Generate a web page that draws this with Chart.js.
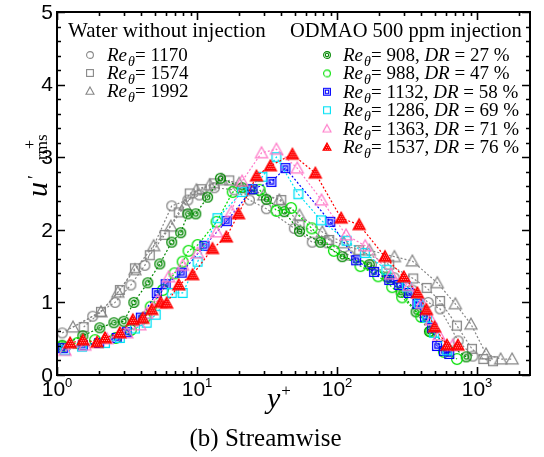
<!DOCTYPE html>
<html>
<head>
<meta charset="utf-8">
<script src="https://cdn.jsdelivr.net/npm/chart.js@4.4.0/dist/chart.umd.min.js"></script>
<style>
  html, body { margin: 0; padding: 0; background: #fff; }
</style>
</head>
<body>
<canvas id="urmsChart" width="544" height="457"></canvas>
<script>
// ---------- data (y+ , u'+rms)

// water without injection
var yp_1170 = [1.09, 1.8, 2.6, 3.37, 4.24, 6.6, 8.6, 10.4, 13.3, 18.5, 23.7, 31.3, 49.5, 66.5, 85, 122, 176, 256, 345, 448, 545, 733, 935];
var u_1170  = [0.58, 0.81, 1.0, 1.24, 1.51, 2.33, 2.41, 2.48, 2.58, 2.55, 2.41, 2.29, 2.02, 1.83, 1.82, 1.65, 1.52, 1.34, 1.17, 1.0, 0.91, 0.47, 0.26];

var yp_1574 = [1.55, 2.06, 2.81, 3.6, 4.6, 5.88, 7.4, 8.87, 10.8, 13.3, 17, 23.7, 40, 54, 88, 144, 236, 350, 437, 545, 718, 920, 1110, 1300];
var u_1574  = [0.66, 0.87, 1.17, 1.47, 1.65, 1.93, 2.24, 2.5, 2.56, 2.64, 2.68, 2.55, 2.41, 2.07, 1.86, 1.72, 1.52, 1.33, 1.2, 1.02, 0.68, 0.36, 0.22, 0.19];

var yp_1992 = [1.3, 2.06, 2.72, 3.6, 4.9, 6.5, 8.2, 9.9, 12.3, 15, 20, 30, 38.7, 54, 78.6, 112, 170, 257, 345, 520, 700, 905, 1160, 1475, 1780];
var u_1992  = [0.66, 0.87, 1.14, 1.45, 1.78, 2.05, 2.34, 2.55, 2.62, 2.69, 2.64, 2.48, 2.41, 2.2, 1.97, 1.82, 1.72, 1.63, 1.57, 1.27, 0.98, 0.70, 0.29, 0.22, 0.22];

// ODMAO 500 ppm injection
var yp_908 = [1.09, 1.53, 2.02, 2.55, 3.0, 3.54, 4.45, 5.42, 6.6, 7.65, 8.6, 9.8, 11.9, 14.7, 21, 31.3, 42, 54, 76, 109, 170, 228, 287, 367, 457, 837];
var u_908  = [0.41, 0.54, 0.65, 0.72, 0.74, 1.0, 1.27, 1.53, 1.83, 1.96, 2.22, 2.22, 2.45, 2.71, 2.58, 2.42, 2.25, 1.98, 1.83, 1.63, 1.52, 1.35, 1.14, 0.87, 0.6, 0.25];

var yp_988 = [1.085, 1.4, 1.87, 2.63, 3.37, 4.24, 4.67, 5.7, 6.9, 7.9, 8.7, 10.1, 13.8, 18, 28, 37, 47, 66, 95, 147, 197, 248, 292, 400, 470, 580, 720];
var u_988  = [0.39, 0.44, 0.48, 0.51, 0.62, 0.79, 0.94, 1.17, 1.4, 1.56, 1.71, 1.79, 2.11, 2.52, 2.55, 2.26, 2.3, 2.02, 1.71, 1.5, 1.36, 1.21, 1.07, 0.80, 0.6, 0.32, 0.22];

var yp_1132 = [1.1, 1.53, 2.0, 2.67, 3.15, 3.97, 5.16, 5.97, 7.78, 11.3, 16.3, 24.9, 34, 42.8, 89.5, 137, 184, 236, 278, 326, 375, 425, 478, 518, 580, 633];
var u_1132  = [0.37, 0.41, 0.44, 0.51, 0.59, 0.79, 1.13, 1.25, 1.41, 1.78, 2.12, 2.56, 2.66, 2.85, 2.11, 1.58, 1.42, 1.31, 1.24, 1.13, 0.98, 0.80, 0.65, 0.40, 0.33, 0.29];

var yp_1286 = [1.14, 1.51, 2.2, 2.81, 3.6, 4.37, 5.07, 6.6, 7.9, 10.1, 14, 21, 29.3, 36.9, 53, 77, 117, 158, 225, 316, 385, 440, 495, 612];
var u_1286  = [0.34, 0.39, 0.44, 0.51, 0.64, 0.72, 0.83, 1.13, 1.13, 1.56, 2.16, 2.52, 2.73, 3.0, 2.49, 2.13, 1.85, 1.68, 1.45, 1.21, 0.99, 0.79, 0.58, 0.34];

var yp_1363 = [1.14, 1.58, 2.27, 3.15, 3.9, 4.37, 5.25, 6.27, 7.9, 10.1, 13.8, 17.6, 21, 28.9, 36.9, 52, 77.5, 116, 159, 243, 327, 405, 470, 535, 670];
var u_1363  = [0.34, 0.41, 0.5, 0.58, 0.69, 0.85, 1.03, 1.35, 1.51, 1.68, 1.97, 2.25, 2.67, 3.06, 3.11, 2.85, 2.41, 1.93, 1.78, 1.39, 1.23, 0.99, 0.76, 0.55, 0.41];

var yp_1537 = [1.24, 1.53, 1.93, 2.2, 2.81, 3.48, 4.1, 4.75, 5.5, 6.07, 7.4, 9.3, 12.9, 16.2, 19.8, 26.6, 33.4, 48, 70, 107, 144, 220, 300, 375, 435, 497, 610, 730];
var u_1537  = [0.44, 0.48, 0.45, 0.51, 0.58, 0.76, 0.78, 0.9, 1.0, 0.99, 1.24, 1.38, 1.74, 1.9, 2.22, 2.74, 2.88, 3.04, 2.78, 2.16, 2.07, 1.63, 1.35, 1.13, 0.9, 0.66, 0.41, 0.41];

// legend text
var waterTitle = 'Water without injection';
var waterRe = ['1170', '1574', '1992'];
var odmaoTitle = 'ODMAO 500 ppm injection';
var odmaoRe = ['908', '988', '1132', '1286', '1363', '1537'];
var odmaoDR = ['27', '47', '58', '69', '71', '76'];

var yTicks = [0, 1, 2, 3, 4, 5];
var xDecades = [0, 1, 2, 3];
var xMin = 1, xMax = 2390;

// ---------- markers

var SERIF = '"Liberation Serif", "Times New Roman", serif';
var SANS = '"Liberation Sans", Arial, sans-serif';

var GRAY = 'rgb(135,135,135)', DKGREEN = 'rgb(0,135,0)', LIME = 'rgb(0,225,0)',
    BLUE = 'rgb(0,0,255)', CYAN = 'rgb(0,225,245)', PINK = 'rgb(255,120,200)', RED = 'rgb(255,0,0)';

function makeMarker(shape, color, size, lw) {
  var s = Math.ceil(size) + 4;
  var c = document.createElement('canvas');
  c.width = s; c.height = s;
  var g = c.getContext('2d');
  var m = s / 2, r = size / 2;
  g.strokeStyle = color; g.fillStyle = color; g.lineWidth = lw || 1.2;
  if (shape == 'circle' || shape == 'dcircle') {
    g.beginPath(); g.arc(m, m, r - 0.6, 0, Math.PI * 2); g.stroke();
    if (shape == 'dcircle') { g.beginPath(); g.arc(m, m, r * 0.42, 0, Math.PI * 2); g.stroke(); }
  } else if (shape == 'square' || shape == 'dsquare') {
    g.strokeRect(m - r + 0.6, m - r + 0.6, 2 * r - 1.2, 2 * r - 1.2);
    if (shape == 'dsquare') { var q = r * 0.42; g.strokeRect(m - q, m - q, 2 * q, 2 * q); }
  } else {
    g.beginPath();
    g.moveTo(m, m - r);
    g.lineTo(m + r, m + r * 0.8);
    g.lineTo(m - r, m + r * 0.8);
    g.closePath();
    if (shape == 'ftriangle') {
      g.fill();
      // speckled fill like the printed symbol
      g.save(); g.clip();
      g.fillStyle = 'rgba(255,255,255,0.55)';
      for (var i = 0; i < s; i += 2) {
        for (var j = (i / 2) % 2; j < s; j += 2) { g.fillRect(j, i, 1, 1); }
      }
      g.restore();
    }
    g.stroke();
  }
  return c;
}

var series = [
  { label: 'Re = 1170', x: yp_1170, y: u_1170, color: GRAY, shape: 'circle', size: 11 },
  { label: 'Re = 1574', x: yp_1574, y: u_1574, color: GRAY, shape: 'square', size: 10 },
  { label: 'Re = 1992', x: yp_1992, y: u_1992, color: GRAY, shape: 'triangle', size: 12 },
  { label: 'Re = 908, DR = 27 %', x: yp_908, y: u_908, color: DKGREEN, shape: 'dcircle', size: 11 },
  { label: 'Re = 988, DR = 47 %', x: yp_988, y: u_988, color: LIME, shape: 'circle', size: 12 },
  { label: 'Re = 1132, DR = 58 %', x: yp_1132, y: u_1132, color: BLUE, shape: 'dsquare', size: 10 },
  { label: 'Re = 1286, DR = 69 %', x: yp_1286, y: u_1286, color: CYAN, shape: 'square', size: 10 },
  { label: 'Re = 1363, DR = 71 %', x: yp_1363, y: u_1363, color: PINK, shape: 'triangle', size: 12 },
  { label: 'Re = 1537, DR = 76 %', x: yp_1537, y: u_1537, color: RED, shape: 'ftriangle', size: 12 }
];

var datasets = series.map(function (s, i) {
  s.marker = makeMarker(s.shape, s.color, s.size, 1.3);
  s.legendMarker = makeMarker(s.shape, s.color, 8, 1.1);
  return {
    label: s.label,
    data: s.x.map(function (v, k) { return { x: v, y: s.y[k] }; }),
    borderColor: s.color,
    backgroundColor: s.color,
    borderWidth: 1.2,
    borderDash: [2, 2],
    pointStyle: s.marker,
    pointRadius: 5,
    showLine: true,
    fill: false,
    tension: 0,
    clip: false,
    order: series.length - i
  };
});

// ---------- drawing helpers

function drawRich(ctx, x, y, parts) {
  parts.forEach(function (p) {
    ctx.font = p.f;
    ctx.fillText(p.t, x, y + (p.dy || 0));
    x += ctx.measureText(p.t).width + (p.gap || 0);
  });
  return x;
}

function reParts(re, dr) {
  var it = 'italic 19px ' + SERIF, rm = '19px ' + SERIF, sub = 'italic 14px ' + SERIF;
  var p = [{ t: 'Re', f: it, gap: 1 }, { t: 'θ', f: sub, dy: 5 }, { t: '= ' + re, f: rm }];
  if (dr) {
    p.push({ t: ', ', f: rm }, { t: 'DR', f: it }, { t: ' = ' + dr + ' %', f: rm });
  }
  return p;
}

var decorPlugin = {
  id: 'decor',
  afterDatasetsDraw: function (chart) {
    var ctx = chart.ctx, a = chart.chartArea;
    var xs = chart.scales.x, ys = chart.scales.y;
    ctx.save();
    ctx.fillStyle = '#000';
    ctx.strokeStyle = '#000';

    // inward ticks on all four sides
    ctx.lineWidth = 1.6;
    ctx.beginPath();
    for (var k = 0; k <= 25; k++) {
      var py = Math.round(ys.getPixelForValue(k / 5)) + 0.5;
      var len = (k % 5 == 0) ? 8 : 4;
      ctx.moveTo(a.left, py); ctx.lineTo(a.left + len, py);
      ctx.moveTo(a.right, py); ctx.lineTo(a.right - len, py);
    }
    xDecades.forEach(function (d) {
      for (var n = 1; n <= 9; n++) {
        var v = n * Math.pow(10, d);
        if (v < xMin || v > xMax) continue;
        var px = Math.round(xs.getPixelForValue(v)) + 0.5;
        var len = (n == 1) ? 8 : 4;
        ctx.moveTo(px, a.bottom); ctx.lineTo(px, a.bottom - len);
        ctx.moveTo(px, a.top); ctx.lineTo(px, a.top + len);
      }
    });
    ctx.stroke();

    // frame
    ctx.lineWidth = 2;
    ctx.strokeRect(a.left, a.top, a.right - a.left, a.bottom - a.top);

    // y tick labels
    ctx.font = '21px ' + SANS;
    ctx.textAlign = 'right';
    ctx.textBaseline = 'middle';
    yTicks.forEach(function (v) {
      ctx.fillText(String(v), a.left - 4, ys.getPixelForValue(v) + 1);
    });

    // x tick labels: 10^d
    ctx.textAlign = 'left';
    ctx.textBaseline = 'alphabetic';
    xDecades.forEach(function (d) {
      var px = xs.getPixelForValue(Math.pow(10, d));
      ctx.font = '21px ' + SANS;
      var w1 = ctx.measureText('10').width;
      ctx.font = '13px ' + SANS;
      var w2 = ctx.measureText(String(d)).width;
      var x0 = px - (w1 + w2) / 2;
      ctx.font = '21px ' + SANS;
      ctx.fillText('10', x0, a.bottom + 21);
      ctx.font = '13px ' + SANS;
      ctx.fillText(String(d), x0 + w1, a.bottom + 12);
    });

    // x axis title y+
    drawRich(ctx, 267, 408, [
      { t: 'y', f: 'italic 30px ' + SERIF, gap: 1 },
      { t: '+', f: '17px ' + SERIF, dy: -12 }
    ]);

    // caption
    ctx.font = '25px ' + SERIF;
    ctx.textAlign = 'center';
    ctx.fillText('(b) Streamwise', (a.left + a.right) / 2 - 28, 446);
    ctx.textAlign = 'left';

    // y axis title u'+rms (rotated)
    ctx.save();
    ctx.translate(47, 197);
    ctx.rotate(-Math.PI / 2);
    ctx.font = 'italic 30px ' + SERIF;
    ctx.fillText('u', 0, 0);
    var uw = ctx.measureText('u').width;
    ctx.font = '18px ' + SERIF;
    ctx.fillText('\u2032', uw + 3, -6);
    ctx.font = '17px ' + SERIF;
    ctx.fillText('rms', uw + 22, 0);
    ctx.font = '16px ' + SERIF;
    ctx.fillText('+', uw + 33, -12);
    ctx.restore();

    // legend, left column
    ctx.font = '21px ' + SERIF;
    ctx.fillText(waterTitle, 68, 37);
    waterRe.forEach(function (re, i) {
      var y = 61 + i * 18;
      var m = series[i].legendMarker;
      ctx.drawImage(m, 90 - m.width / 2, y - 6 - m.height / 2);
      drawRich(ctx, 107, y, reParts(re));
    });

    // legend, right column
    ctx.font = '20.5px ' + SERIF;
    ctx.fillText(odmaoTitle, 290, 37);
    odmaoRe.forEach(function (re, i) {
      var y = 61 + i * 18.4;
      var m = series[i + 3].legendMarker;
      ctx.drawImage(m, 327 - m.width / 2, y - 6 - m.height / 2);
      drawRich(ctx, 343, y, reParts(re, odmaoDR[i]));
    });

    ctx.restore();
  }
};

var ctx = document.getElementById('urmsChart').getContext('2d');
var urmsChart = new Chart(ctx, {
  type: 'scatter',
  data: { datasets: datasets },
  options: {
    responsive: false,
    animation: false,
    devicePixelRatio: 1,
    layout: { padding: { left: 57, right: 14, top: 12, bottom: 82 } },
    plugins: {
      legend: { display: false },
      tooltip: { enabled: false }
    },
    scales: {
      x: { type: 'logarithmic', min: xMin, max: xMax, display: false },
      y: { type: 'linear', min: 0, max: 5, display: false }
    }
  },
  plugins: [decorPlugin]
});
</script>
</body>
</html>
